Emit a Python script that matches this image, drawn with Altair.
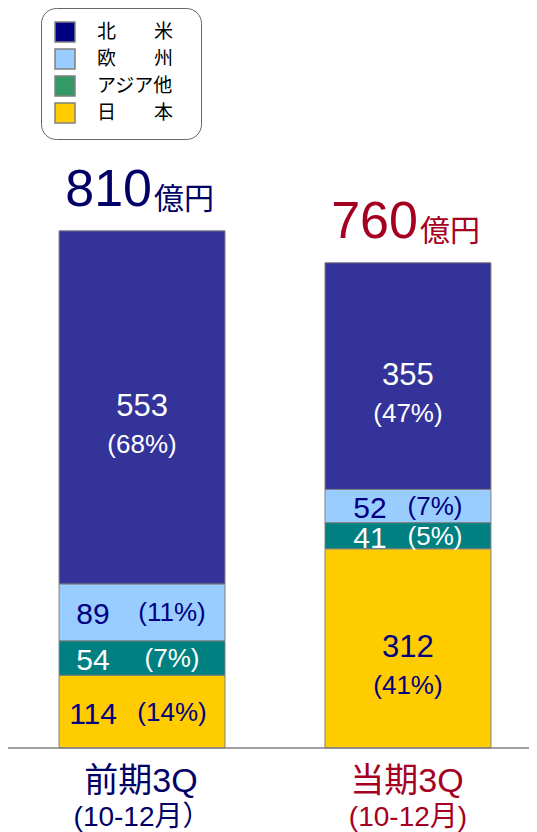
import altair as alt
import pandas as pd

# ---- data ----
periods = ["前期3Q", "当期3Q"]
period_sub = ["(10-12月）", "(10-12月)"]
period_colors = ["#000066", "#A50021"]

regions = ["北米", "欧州", "アジア他", "日本"]
legend_labels = ["北　　米", "欧　　州", "アジア他", "日　　本"]
bar_colors = ["#333399", "#99CCFF", "#008080", "#FFCC00"]
legend_colors = ["#000080", "#99CCFF", "#339966", "#FFCC00"]
label_colors = ["white", "#000080", "white", "#000080"]

prev_values = [553, 89, 54, 114]
curr_values = [355, 52, 41, 312]
prev_pct = [68, 11, 7, 14]
curr_pct = [47, 7, 5, 41]

FONT = "Liberation Sans, Arial, Noto Sans CJK JP"
CJK = "Noto Sans CJK JP"
PAD = "\u2800"  # blank filler widening the legend box to the right

# ---- build tables ----
rows = []
for p, vals, pcts in [(periods[0], prev_values, prev_pct), (periods[1], curr_values, curr_pct)]:
    cum = 0
    for i in reversed(range(len(regions))):
        v = vals[i]
        rows.append({
            "period": p, "region": regions[i], "lab": legend_labels[i] + PAD, "value": v,
            "order": len(regions) - 1 - i,
            "mid": cum + v / 2,
            "num": str(v), "pct": f"({pcts[i]}%)",
        })
        cum += v
df = pd.DataFrame(rows)
legend_domain = [l + PAD for l in legend_labels]

tot = pd.DataFrame({
    "period": periods,
    "total": [sum(prev_values), sum(curr_values)],
    "sub": period_sub,
})
tot["num"] = tot["total"].astype(str)

xenc = alt.X("period:N", sort=periods, axis=None,
             scale=alt.Scale(range=[0, 534], paddingInner=0.376, paddingOuter=0.192))
yscale = alt.Scale(domain=[0, 1159], nice=False, zero=True)

bars = alt.Chart(df).mark_bar(stroke="#808080", strokeWidth=1).encode(
    x=xenc,
    y=alt.Y("value:Q", stack="zero", scale=yscale, axis=None),
    color=alt.Color("region:N", scale=alt.Scale(domain=regions, range=bar_colors), legend=None),
    order=alt.Order("order:Q", sort="ascending"),
)

tcolor = alt.Color("region:N", scale=alt.Scale(domain=regions, range=label_colors), legend=None)

big = df[df["value"] >= 200]
big_num = alt.Chart(big).mark_text(font=FONT, fontSize=31, baseline="middle", dy=0).encode(
    x=xenc, y=alt.Y("mid:Q", scale=yscale, axis=None), text="num:N", color=tcolor)
big_pct = alt.Chart(big).mark_text(font=FONT, fontSize=26, baseline="middle", dy=38).encode(
    x=xenc, y=alt.Y("mid:Q", scale=yscale, axis=None), text="pct:N", color=tcolor)

inline_layers = []
for p, ndx, pdx in [(periods[0], -49, 30), (periods[1], -38, 27)]:
    small = df[(df["value"] < 200) & (df["period"] == p)]
    inline_layers.append(
        alt.Chart(small).mark_text(font=FONT, fontSize=30, baseline="middle", dx=ndx, dy=3).encode(
            x=xenc, y=alt.Y("mid:Q", scale=yscale, axis=None), text="num:N", color=tcolor))
    inline_layers.append(
        alt.Chart(small).mark_text(font=FONT, fontSize=26, baseline="middle", dx=pdx, dy=1).encode(
            x=xenc, y=alt.Y("mid:Q", scale=yscale, axis=None), text="pct:N", color=tcolor))

pcolor = alt.Color("period:N", scale=alt.Scale(domain=periods, range=period_colors), legend=None)

tot_num = alt.Chart(tot).mark_text(font=FONT, fontSize=52, align="right", baseline="alphabetic", dx=10, dy=-25).encode(
    x=xenc, y=alt.Y("total:Q", scale=yscale, axis=None), text="num:N", color=pcolor)
tot_unit = alt.Chart(tot).mark_text(font=CJK, fontSize=30, align="left", baseline="alphabetic", dx=12, dy=-22, text="億円").encode(
    x=xenc, y=alt.Y("total:Q", scale=yscale, axis=None), color=pcolor)

cat1 = alt.Chart(tot).mark_text(font=FONT, fontSize=34, baseline="alphabetic", dx=-1).encode(
    x=xenc, y=alt.value(784), text="period:N", color=pcolor)
cat2 = alt.Chart(tot).mark_text(font=FONT, fontSize=28, baseline="alphabetic", dx=0).encode(
    x=xenc, y=alt.value(818), text="sub:N", color=pcolor)

axis_line = alt.Chart(tot).mark_rule(color="#808080", strokeWidth=1).encode(
    y=alt.value(740), x=alt.value(0), x2=alt.value(529))

legend_layer = alt.Chart(df).mark_square(opacity=0).encode(
    x=xenc, y=alt.Y("mid:Q", scale=yscale, axis=None),
    color=alt.Color("lab:N", sort=legend_domain,
                    scale=alt.Scale(domain=legend_domain, range=legend_colors),
                    legend=alt.Legend(
                        title=None, orient="none", legendX=33, legendY=0,
                        symbolType="square", symbolSize=400,
                        symbolStrokeColor="#808080", symbolStrokeWidth=1.5, symbolOpacity=1,
                        labelFont=CJK, labelFontSize=19, labelColor="#000000",
                        labelOffset=21, rowPadding=1, padding=13,
                        cornerRadius=15, strokeColor="#666666", fillColor="white")),
)

chart = alt.layer(
    bars, axis_line, big_num, big_pct, *inline_layers, tot_num, tot_unit, cat1, cat2, legend_layer
).resolve_scale(color="independent").properties(
    width=521, height=740,
    autosize=alt.AutoSizeParams(type="none"),
    padding={"left": 0, "top": 0, "right": 0, "bottom": 84},
).configure_view(stroke=None)

chart.save("out.html", embed_options={"renderer": "svg", "actions": False})
